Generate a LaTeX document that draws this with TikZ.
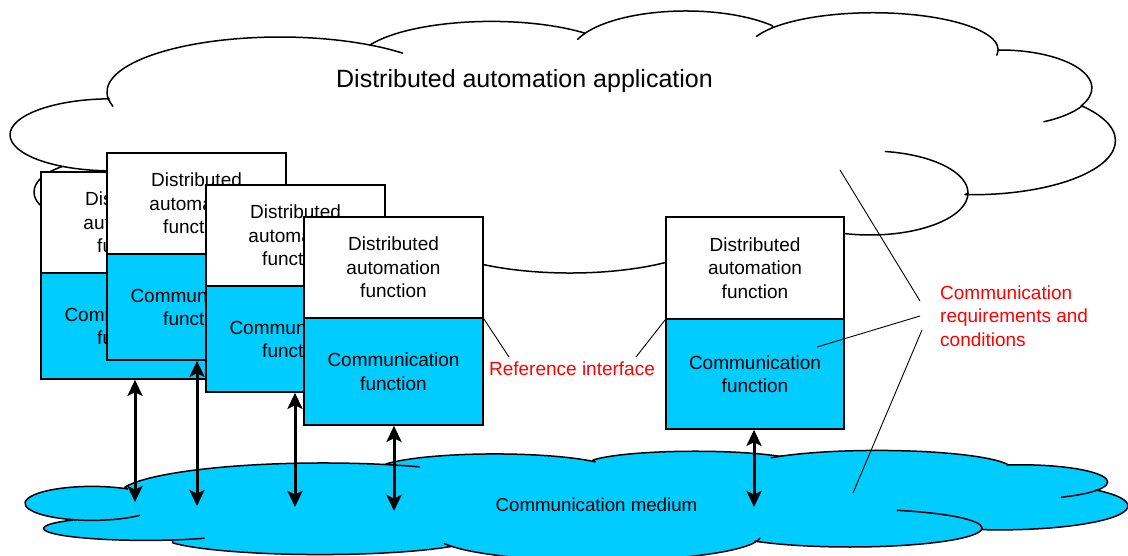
\documentclass[tikz,border=0pt]{standalone}
\usepackage{fontspec}
\setmainfont{Liberation Sans}
\usetikzlibrary{arrows.meta}
\definecolor{medblue}{RGB}{0,204,255}
\definecolor{labred}{RGB}{255,0,0}
\newcommand\boxfont{\fontsize{19}{23.5}\selectfont}
\newcommand\appfont{\fontsize{25}{30}\selectfont}
\newcommand\medfont{\fontsize{18.7}{22}\selectfont}
\begin{document}
\begin{tikzpicture}[x=1pt,y=1pt,
  cloudline/.style={line width=1.5pt, line join=round, line cap=round},
  toppart/.style={draw, line width=1.7pt, fill=white, minimum width=179pt, inner sep=0pt, align=center, font=\boxfont},
  botpart/.style={toppart, fill=medblue},
  arr/.style={line width=3pt, {Stealth[length=16pt,width=15pt,inset=3.5pt]}-{Stealth[length=16pt,width=15pt,inset=3.5pt]}},
  lead/.style={line width=0.9pt},
  redlabel/.style={text=labred, font=\boxfont, inner sep=0pt}]
\useasboundingbox (0,0) rectangle (1128,-556);

% ---------- upper cloud: distributed automation application
\filldraw[cloudline, fill=white]
 (63,-166.5) arc[start angle=241.6,end angle=91,x radius=101,y radius=36]
 -- (108.4,-99) arc[start angle=187.3,end angle=58.7,x radius=173,y radius=55]
 -- (370,-45) arc[start angle=154,end angle=46,x radius=135,y radius=42]
 -- (584,-34) arc[start angle=152.3,end angle=41,x radius=115,y radius=43]
 -- (772,-28) arc[start angle=144,end angle=0,x radius=125,y radius=37]
 -- (998,-50) arc[start angle=91.2,end angle=-28,x radius=92,y radius=38]
 -- (1082,-106) arc[start angle=40,end angle=-93,x radius=143,y radius=54]
 -- (968,-193) arc[start angle=0,end angle=-120,x radius=98,y radius=42]
 -- (689.8,-254.7) arc[start angle=-37,end angle=-131.8,x radius=150,y radius=46]
 -- (300,-240) -- (100,-223) arc[start angle=270,end angle=124,x radius=66,y radius=31]
 -- cycle;
\draw[cloudline] (63,-166.5) arc[start angle=241.6,end angle=268,x radius=101,y radius=36];
\draw[cloudline] (108.4,-99) arc[start angle=187.3,end angle=195,x radius=173,y radius=55];
\draw[cloudline] (370,-45) arc[start angle=58.7,end angle=45,x radius=173,y radius=55];
\draw[cloudline] (584,-34) arc[start angle=152.3,end angle=160,x radius=115,y radius=43];
\draw[cloudline] (772,-28) arc[start angle=144,end angle=159,x radius=125,y radius=37];
\draw[cloudline] (998,-50) arc[start angle=0,end angle=-8,x radius=125,y radius=37];
\draw[cloudline] (1082,-106) arc[start angle=-28,end angle=-62,x radius=92,y radius=38];
\draw[cloudline] (968,-193) arc[start angle=0,end angle=81,x radius=98,y radius=42];
\node[font=\appfont, anchor=base, inner sep=0pt] (app) at (524.5,-88) {Distributed automation application};

% ---------- lower cloud: communication medium
\filldraw[cloudline, fill=medblue]
 (125,-487) arc[start angle=165,end angle=71,x radius=205,y radius=32.4]
 -- (386,-464) arc[start angle=155,end angle=33,x radius=120,y radius=17.4]
 -- (593,-460) arc[start angle=158,end angle=39,x radius=110,y radius=14]
 -- (782,-456) arc[start angle=135,end angle=14.5,x radius=135,y radius=19]
 -- (1007,-465) arc[start angle=99,end angle=-28.5,x radius=87,y radius=17.2]
 -- (1096,-490) arc[start angle=41.4,end angle=-98,x radius=128,y radius=24]
 -- (982,-528) arc[start angle=0,end angle=-136,x radius=132,y radius=19]
 -- (757,-541) arc[start angle=-12,end angle=-155,x radius=162,y radius=25]
 -- (448,-547) arc[start angle=-37,end angle=-157,x radius=160,y radius=19]
 -- (172,-540) arc[start angle=-75,end angle=-226,x radius=102,y radius=12]
 -- (74.7,-519.8) arc[start angle=-105,end angle=-302,x radius=67,y radius=17]
 -- cycle;
\draw[cloudline] (74.7,-519.8) arc[start angle=-105,end angle=-45,x radius=67,y radius=17];
\draw[cloudline] (172,-540) arc[start angle=-75,end angle=-55,x radius=102,y radius=12];
\draw[cloudline] (389.7,-464.8) arc[start angle=71,end angle=62,x radius=205,y radius=32.4];
\draw[cloudline] (782,-456) arc[start angle=135,end angle=142,x radius=135,y radius=19];
\draw[cloudline] (1097.1,-490.2) arc[start angle=-28.5,end angle=-62,x radius=87,y radius=17.2];
\draw[cloudline] (897.3,-510.3) arc[start angle=69,end angle=0,x radius=132,y radius=19];
\draw[cloudline] (451.7,-546.4) arc[start angle=-155,end angle=-162,x radius=162,y radius=25];
\draw[cloudline] (757,-541) arc[start angle=-12,end angle=-5,x radius=162,y radius=25];
\node[font=\medfont, anchor=base, inner sep=0pt] (med) at (596.5,-511) {Communication medium};

% ---------- function boxes
\node[toppart, minimum height=101pt] (b1t) at (130.5,-222.5) {Distributed\\automation\\function};
\node[botpart, minimum height=106pt] (b1c) at (130.5,-326) {Communication\\function};
\node[toppart, minimum height=101pt] (b2t) at (196.5,-203.5) {Distributed\\automation\\function};
\node[botpart, minimum height=106pt] (b2c) at (196.5,-307) {Communication\\function};
\node[toppart, minimum height=101pt] (b3t) at (295.5,-235.5) {Distributed\\automation\\function};
\node[botpart, minimum height=106pt] (b3c) at (295.5,-339) {Communication\\function};
\node[toppart, minimum height=101pt] (b4t) at (393.5,-267.5) {Distributed\\automation\\function};
\node[botpart, minimum height=107pt] (b4c) at (393.5,-371.5) {Communication\\function};
\node[toppart, minimum width=178pt, minimum height=102pt] (rt) at (755,-268) {Distributed\\automation\\function};
\node[botpart, minimum width=178pt, minimum height=110pt] (rc) at (755,-374) {Communication\\function};

% ---------- arrows to the medium
\coordinate (m1) at (135,-502);
\coordinate (m2) at (197,-506);
\coordinate (m3) at (295,-507);
\coordinate (m4) at (394,-511);
\coordinate (m5) at (754,-507);
\draw[arr] (m1 |- b1c.south) -- (m1);
\draw[arr] (m2 |- b2c.south) -- (m2);
\draw[arr] (m3 |- b3c.south) -- (m3);
\draw[arr] (m4 |- b4c.south) -- (m4);
\draw[arr] (m5 |- rc.south) -- (m5);

% ---------- labels and leader lines
\node[redlabel, anchor=base] (ref) at (572,-375) {Reference interface};
\coordinate (ri1) at (509,-357);
\coordinate (ri2) at (636,-357);
\draw[lead] (b4t.south east) -- (ri1);
\draw[lead] (rt.south west) -- (ri2);

\node[redlabel, anchor=west, align=left] (req) at (940,-316) {Communication\\requirements and\\conditions};
\coordinate (q0) at (840,-170);
\coordinate (q1) at (920,-301);
\coordinate (q2) at (817,-347);
\coordinate (q3) at (920,-316);
\coordinate (q4) at (853,-493);
\coordinate (q5) at (922,-330);
\draw[lead] (q0) -- (q1);
\draw[lead] (q2) -- (q3);
\draw[lead] (q4) -- (q5);
\end{tikzpicture}
\end{document}
